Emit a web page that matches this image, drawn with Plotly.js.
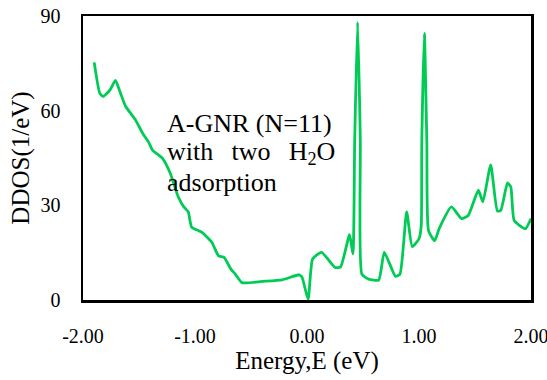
<!DOCTYPE html>
<html>
<head>
<meta charset="utf-8">
<script src="https://cdn.plot.ly/plotly-3.0.1.min.js"></script>
<style>
  html, body { margin: 0; padding: 0; background: #fff; }
  #chart { width: 547px; height: 380px; }
</style>
</head>
<body>
<div id="chart"></div>
<script>
// Differential density of states of the armchair graphene nanoribbon
const energy = [
  -1.90, -1.85, -1.82, -1.76, -1.71, -1.67, -1.62, -1.53, -1.47, -1.41,
  -1.38, -1.29, -1.22, -1.15, -1.10, -1.06, -1.03, -0.94, -0.85, -0.79,
  -0.74, -0.68, -0.64, -0.58, -0.40, -0.22, -0.07, -0.045, 0.01, 0.05,
  0.13, 0.25, 0.30, 0.38, 0.41, 0.426, 0.452, 0.476, 0.49, 0.55,
  0.64, 0.69, 0.79, 0.83, 0.89, 0.94, 1.00, 1.02, 1.025, 1.048,
  1.07, 1.085, 1.14, 1.18, 1.29, 1.38, 1.44, 1.53, 1.57, 1.64,
  1.70, 1.73, 1.79, 1.82, 1.85, 1.95, 2.00
];
const ddos = [
  75.3, 65.5, 64.5, 66.5, 69.6, 66.0, 61.4, 57.0, 53.0, 49.7,
  47.5, 44.9, 40.1, 32.7, 29.5, 27.9, 23.1, 21.5, 18.3, 14.0,
  13.5, 9.8, 8.2, 5.5, 5.9, 6.4, 8.0, 7.3, 0.2, 13.0,
  15.1, 10.3, 10.5, 20.7, 14.6, 50.7, 88.0, 50.7, 8.2, 6.6,
  6.3, 15.1, 7.5, 8.2, 27.9, 16.9, 19.4, 23.6, 50.0, 84.5,
  50.0, 22.0, 18.8, 22.6, 29.5, 25.8, 26.8, 34.8, 31.1, 42.8,
  28.2, 28.4, 37.1, 35.8, 25.2, 22.6, 25.8
];
const xTickVals = [-2, -1, 0, 1, 2];
const xTickText = ['-2.00', '-1.00', '0.00', '1.00', '2.00'];
const yTickVals = [0, 30, 60, 90];
const noteLines = [
  'A-GNR (N=11)',
  'with&nbsp; &#8201;two&nbsp; &#8201;H<sub>2</sub>O',
  'adsorption'
];

const serif = '"Liberation Serif", "Times New Roman", serif';

const trace = {
  x: energy,
  y: ddos,
  type: 'scatter',
  mode: 'lines',
  line: { color: '#00cc55', width: 2.8, shape: 'spline', smoothing: 0.5 },
  hoverinfo: 'x+y'
};

// one annotation per caption line, stacked with a fixed step
const noteTop = 0.620, noteStep = 0.104;
const notes = noteLines.map((t, i) => ({
  xref: 'paper', yref: 'paper',
  x: 0.183, y: noteTop - i * noteStep,
  xanchor: 'left', yanchor: 'middle',
  align: 'left',
  showarrow: false,
  text: t,
  font: { family: serif, size: 26, color: '#000000' }
}));

const layout = {
  width: 547,
  height: 380,
  margin: { l: 83, r: 16, t: 16, b: 80 },
  paper_bgcolor: '#ffffff',
  plot_bgcolor: '#ffffff',
  showlegend: false,
  font: { family: serif, color: '#000000' },
  xaxis: {
    range: [-2, 2],
    tickvals: xTickVals,
    ticktext: xTickText,
    showgrid: false,
    zeroline: false,
    showline: true,
    mirror: true,
    linecolor: '#000000',
    linewidth: 2.5,
    ticks: '',
    ticklabelstandoff: 16,
    ticklabeloverflow: 'allow',
    tickfont: { family: serif, size: 20, color: '#000000' },
    title: { text: 'Energy,E (eV)', font: { family: serif, size: 25, color: '#000000' }, standoff: 2 }
  },
  yaxis: {
    range: [0, 90],
    tickvals: yTickVals,
    showgrid: false,
    zeroline: false,
    showline: true,
    mirror: true,
    linecolor: '#000000',
    linewidth: 2.5,
    ticks: '',
    ticklabelstandoff: 16,
    tickfont: { family: serif, size: 20, color: '#000000' },
    title: { text: 'DDOS(1/eV)', font: { family: serif, size: 25, color: '#000000' }, standoff: 4 }
  },
  annotations: notes
};

Plotly.newPlot('chart', [trace], layout, { displayModeBar: false, staticPlot: true });
</script>
</body>
</html>
